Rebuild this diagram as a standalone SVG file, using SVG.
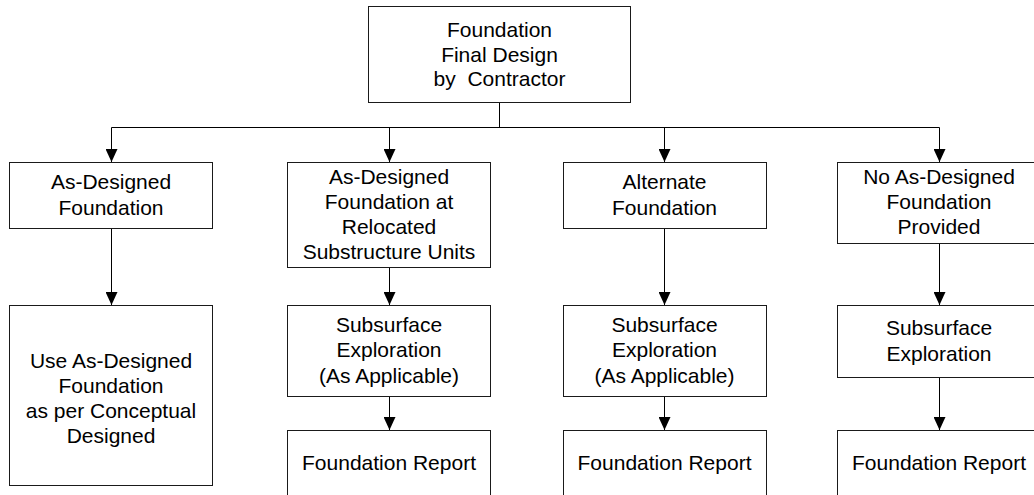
<svg xmlns="http://www.w3.org/2000/svg" width="1034" height="495" viewBox="0 0 1034 495">
  <style>
    .box { fill: #ffffff; stroke: #1a1a1a; stroke-width: 1; }
    .lbl { font-family: "Liberation Sans", Arial, sans-serif; font-size: 21px; fill: #000; text-anchor: middle; white-space: pre; }
    .wire { fill: none; stroke: #000; stroke-width: 1; }
  </style>
  <defs>
    <marker id="arrow" markerUnits="userSpaceOnUse" markerWidth="13" markerHeight="12" refX="13" refY="6" orient="auto">
      <path d="M0,0 L13,6 L0,12 Z" fill="#000"/>
    </marker>
  </defs>
  <rect width="1034" height="495" fill="#ffffff"/>

  <!-- connectors -->
  <g id="connectors">
    <path class="wire" d="M499.5,102.5 V127.5"/>
    <path class="wire" d="M111.5,127.5 H939.5"/>
    <path class="wire" d="M111.5,127.5 V162" marker-end="url(#arrow)"/>
    <path class="wire" d="M389.5,127.5 V162" marker-end="url(#arrow)"/>
    <path class="wire" d="M664.5,127.5 V162" marker-end="url(#arrow)"/>
    <path class="wire" d="M939.5,127.5 V162" marker-end="url(#arrow)"/>
    <path class="wire" d="M111.5,228.5 V305" marker-end="url(#arrow)"/>
    <path class="wire" d="M389.5,267.5 V305" marker-end="url(#arrow)"/>
    <path class="wire" d="M389.5,396.5 V430" marker-end="url(#arrow)"/>
    <path class="wire" d="M664.5,228.5 V305" marker-end="url(#arrow)"/>
    <path class="wire" d="M664.5,396.5 V430" marker-end="url(#arrow)"/>
    <path class="wire" d="M939.5,243.5 V305" marker-end="url(#arrow)"/>
    <path class="wire" d="M939.5,377.5 V430" marker-end="url(#arrow)"/>
  </g>

  <!-- top node -->
  <g id="final-design">
    <rect class="box" x="368.5" y="6.5" width="262" height="96"/>
    <text class="lbl" x="499.5" y="37">Foundation</text>
    <text class="lbl" x="499.5" y="62">Final Design</text>
    <text class="lbl" x="499.5" y="86">by  Contractor</text>
  </g>

  <!-- column 1 -->
  <g id="as-designed">
    <rect class="box" x="9.5" y="162.5" width="203" height="66"/>
    <text class="lbl" x="111" y="189">As-Designed</text>
    <text class="lbl" x="111" y="215">Foundation</text>
  </g>
  <g id="use-as-designed">
    <rect class="box" x="9.5" y="305.5" width="203" height="180"/>
    <text class="lbl" x="111" y="368">Use As-Designed</text>
    <text class="lbl" x="111" y="393">Foundation</text>
    <text class="lbl" x="111" y="418">as per Conceptual</text>
    <text class="lbl" x="111" y="443">Designed</text>
  </g>

  <!-- column 2 -->
  <g id="relocated">
    <rect class="box" x="287.5" y="162.5" width="203" height="105"/>
    <text class="lbl" x="389" y="183.5">As-Designed</text>
    <text class="lbl" x="389" y="208.5">Foundation at</text>
    <text class="lbl" x="389" y="233.5">Relocated</text>
    <text class="lbl" x="389" y="258.5">Substructure Units</text>
  </g>
  <g id="subsurface-2">
    <rect class="box" x="287.5" y="305.5" width="203" height="91"/>
    <text class="lbl" x="389" y="331.5">Subsurface</text>
    <text class="lbl" x="389" y="357">Exploration</text>
    <text class="lbl" x="389" y="383">(As Applicable)</text>
  </g>
  <g id="report-2">
    <rect class="box" x="287.5" y="430.5" width="203" height="70"/>
    <text class="lbl" x="389" y="470">Foundation Report</text>
  </g>

  <!-- column 3 -->
  <g id="alternate">
    <rect class="box" x="563.5" y="162.5" width="203" height="66"/>
    <text class="lbl" x="664.5" y="189">Alternate</text>
    <text class="lbl" x="664.5" y="215">Foundation</text>
  </g>
  <g id="subsurface-3">
    <rect class="box" x="563.5" y="305.5" width="203" height="91"/>
    <text class="lbl" x="664.5" y="331.5">Subsurface</text>
    <text class="lbl" x="664.5" y="357">Exploration</text>
    <text class="lbl" x="664.5" y="383">(As Applicable)</text>
  </g>
  <g id="report-3">
    <rect class="box" x="563.5" y="430.5" width="203" height="70"/>
    <text class="lbl" x="664.5" y="470">Foundation Report</text>
  </g>

  <!-- column 4 -->
  <g id="none-provided">
    <rect class="box" x="837.5" y="162.5" width="203" height="81"/>
    <text class="lbl" x="939" y="184">No As-Designed</text>
    <text class="lbl" x="939" y="209">Foundation</text>
    <text class="lbl" x="939" y="233.5">Provided</text>
  </g>
  <g id="subsurface-4">
    <rect class="box" x="837.5" y="305.5" width="203" height="72"/>
    <text class="lbl" x="939" y="335">Subsurface</text>
    <text class="lbl" x="939" y="360.5">Exploration</text>
  </g>
  <g id="report-4">
    <rect class="box" x="837.5" y="430.5" width="203" height="70"/>
    <text class="lbl" x="939" y="470">Foundation Report</text>
  </g>
</svg>
